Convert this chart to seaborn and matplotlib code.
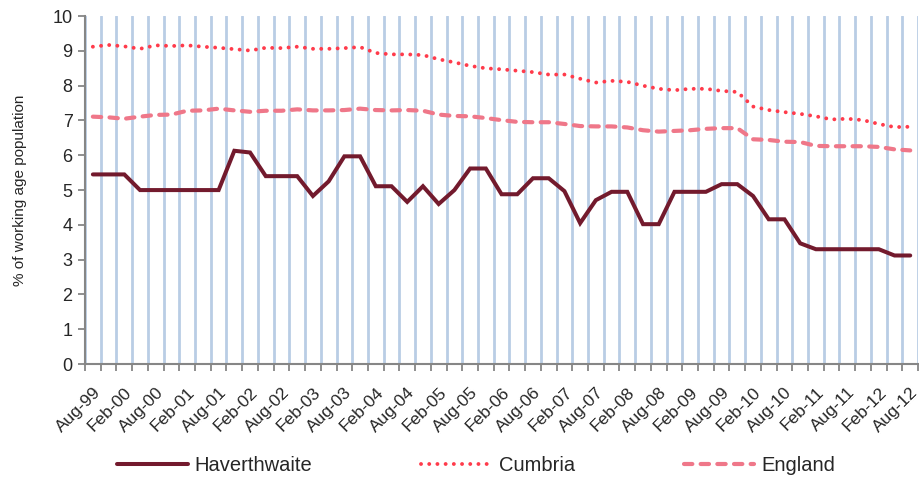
# Claimant rate chart: Haverthwaite vs Cumbria vs England, quarterly Aug-99 to Aug-12
import numpy as np
import pandas as pd
import matplotlib
matplotlib.use("Agg")
import matplotlib.pyplot as plt
import seaborn as sns

# labels shown on the axis (every other quarter)
tick_labels = ["Aug-99", "Feb-00", "Aug-00", "Feb-01", "Aug-01", "Feb-02", "Aug-02",
               "Feb-03", "Aug-03", "Feb-04", "Aug-04", "Feb-05", "Aug-05", "Feb-06",
               "Aug-06", "Feb-07", "Aug-07", "Feb-08", "Aug-08", "Feb-09", "Aug-09",
               "Feb-10", "Aug-10", "Feb-11", "Aug-11", "Feb-12", "Aug-12"]

# quarterly values, % of working age population
haverthwaite = [5.45, 5.45, 5.45, 5.0, 5.0, 5.0, 5.0, 5.0, 5.0, 6.13,
                6.08, 5.4, 5.4, 5.4, 4.83, 5.25, 5.97, 5.97, 5.11, 5.11,
                4.66, 5.11, 4.6, 5.0, 5.62, 5.62, 4.88, 4.88, 5.34, 5.34,
                4.97, 4.05, 4.71, 4.95, 4.95, 4.02, 4.02, 4.95, 4.95, 4.95,
                5.17, 5.17, 4.83, 4.16, 4.16, 3.47, 3.3, 3.3, 3.3, 3.3,
                3.3, 3.12, 3.12]
cumbria = [9.12, 9.17, 9.13, 9.06, 9.16, 9.14, 9.16, 9.12, 9.09, 9.05,
           9.01, 9.09, 9.08, 9.12, 9.06, 9.06, 9.08, 9.11, 8.94, 8.90,
           8.90, 8.88, 8.76, 8.67, 8.57, 8.50, 8.47, 8.43, 8.39, 8.32,
           8.32, 8.20, 8.09, 8.14, 8.11, 8.00, 7.91, 7.87, 7.91, 7.91,
           7.85, 7.82, 7.40, 7.30, 7.24, 7.19, 7.12, 7.03, 7.05, 7.01,
           6.90, 6.81, 6.82]
england = [7.11, 7.09, 7.05, 7.11, 7.16, 7.17, 7.28, 7.29, 7.34, 7.29,
           7.25, 7.28, 7.28, 7.32, 7.29, 7.29, 7.30, 7.34, 7.30, 7.29,
           7.30, 7.28, 7.17, 7.13, 7.12, 7.07, 7.01, 6.96, 6.95, 6.95,
           6.90, 6.84, 6.83, 6.83, 6.80, 6.72, 6.68, 6.70, 6.72, 6.76,
           6.78, 6.78, 6.46, 6.44, 6.39, 6.38, 6.27, 6.26, 6.26, 6.26,
           6.24, 6.17, 6.14]

df = pd.DataFrame({
    "quarter": np.arange(len(haverthwaite)),
    "Haverthwaite": haverthwaite,
    "Cumbria": cumbria,
    "England": england,
})

sns.set_style("ticks")
plt.rcParams["font.family"] = ["Liberation Sans", "DejaVu Sans"]

fig, ax = plt.subplots(figsize=(9.19, 4.88), dpi=100)
fig.subplots_adjust(left=0.0925, right=0.999, top=0.967, bottom=0.254)

sns.lineplot(data=df, x="quarter", y="Haverthwaite", ax=ax, color="#731a2d",
             linewidth=2.9, label="Haverthwaite", solid_joinstyle="miter")
sns.lineplot(data=df, x="quarter", y="Cumbria", ax=ax, color="#ff3b4b",
             linewidth=2.8, linestyle=(0, (0.01, 2.1)), dash_capstyle="round",
             label="Cumbria")
sns.lineplot(data=df, x="quarter", y="England", ax=ax, color="#ef7789",
             linewidth=3, linestyle=(0, (2.0, 2.0)), dash_capstyle="round",
             label="England")

# x axis: categories with gridlines between them
n = len(haverthwaite)
ax.set_xlim(-0.5, n - 0.5)
ax.set_xticks(np.arange(0, n, 2))
ax.set_xticklabels(tick_labels, rotation=45, ha="right", va="top",
                   rotation_mode="anchor", fontsize=12.5)
ax.set_xticks(np.arange(-0.5, n), minor=True)
ax.tick_params(axis="x", which="major", length=0, pad=15)
ax.tick_params(axis="x", which="minor", length=5, width=1.3, color="#868686")
ax.grid(True, axis="x", which="minor", color="#b9cde5", linewidth=2)
ax.set_axisbelow(True)

# y axis
ax.set_ylim(0, 10)
ax.set_yticks(range(0, 11))
ax.tick_params(axis="y", length=5, width=1.3, color="#868686", labelsize=13, pad=4)
ax.set_ylabel("% of working age population", fontsize=11, labelpad=18)
ax.set_xlabel("")

sns.despine(ax=ax)
for side in ["left", "bottom"]:
    ax.spines[side].set_color("#868686")
    ax.spines[side].set_linewidth(1.5)

handles, labels = ax.get_legend_handles_labels()
ax.get_legend().remove()
fig.legend(handles, labels, loc="center", bbox_to_anchor=(0.518, 0.047), ncol=3,
           frameon=False, fontsize=14.5, handlelength=3.5, handletextpad=0.35,
           columnspacing=5.4)

plt.savefig("out.png", dpi=100)
